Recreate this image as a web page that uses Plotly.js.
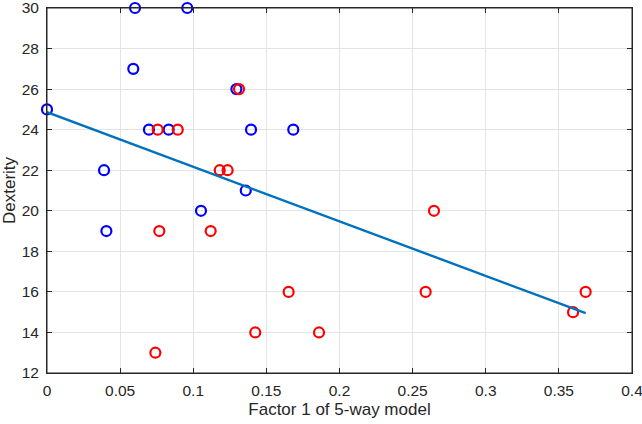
<!DOCTYPE html>
<html>
<head>
<meta charset="utf-8">
<script src="https://cdn.plot.ly/plotly-3.0.1.min.js"></script>
<style>html,body{margin:0;padding:0;background:#fff;}#chart{width:642px;height:424px;}</style>
</head>
<body>
<div id="chart"></div>
<script>
// Blue group
var blueX = [0.0602, 0.0959, 0.0590, 0.1295, 0.0000, 0.0697, 0.0832, 0.1395, 0.1684, 0.0390, 0.1359, 0.1053, 0.0406];
var blueY = [30, 30, 27, 26, 25, 24, 24, 24, 24, 22, 21, 20, 19];
// Red group
var redX = [0.1313, 0.0757, 0.0894, 0.1181, 0.1235, 0.0768, 0.1119, 0.1652, 0.1424, 0.1860, 0.0741, 0.2646, 0.2589, 0.3597, 0.3683];
var redY = [26, 24, 24, 22, 22, 19, 19, 16, 14, 14, 13, 20, 16, 15, 16];
// Fitted line endpoints
var fitX = [0.0, 0.3683];
var fitY = [24.86, 14.95];
// Tick labels
var xTickVals = [0, 0.05, 0.1, 0.15, 0.2, 0.25, 0.3, 0.35, 0.4];
var xTickText = ['0', '0.05', '0.1', '0.15', '0.2', '0.25', '0.3', '0.35', '0.4'];
var yTickVals = [12, 14, 16, 18, 20, 22, 24, 26, 28, 30];
var yTickText = ['12', '14', '16', '18', '20', '22', '24', '26', '28', '30'];

var traces = [
  {x: blueX, y: blueY, type: 'scatter', mode: 'markers', cliponaxis: false,
   marker: {symbol: 'circle-open', size: 10, color: '#0000FF', line: {width: 2.2, color: '#0000FF'}}},
  {x: redX, y: redY, type: 'scatter', mode: 'markers', cliponaxis: false,
   marker: {symbol: 'circle-open', size: 10, color: '#FF0000', line: {width: 2.2, color: '#FF0000'}}},
  {x: fitX, y: fitY, type: 'scatter', mode: 'lines', line: {color: '#0072BD', width: 2.4}}
];

var fontFam = 'Liberation Sans, Arial, sans-serif';
var axisCommon = {
  showline: true, linecolor: '#262626', linewidth: 1, mirror: 'all',
  ticks: 'inside', ticklen: 5, tickcolor: '#262626', tickwidth: 1,
  showgrid: true, gridcolor: '#e3e3e3', gridwidth: 1, zeroline: false,
  ticklabeloverflow: 'allow',
  tickfont: {family: fontFam, size: 15.5, color: '#262626'}
};

var layout = {
  width: 642, height: 424,
  margin: {l: 47, r: 10, t: 8, b: 51},
  paper_bgcolor: '#ffffff', plot_bgcolor: '#ffffff',
  showlegend: false,
  xaxis: Object.assign({}, axisCommon, {
    range: [0, 0.4], tickmode: 'array', tickvals: xTickVals, ticktext: xTickText,
    ticklabelstandoff: 3,
    title: {text: 'Factor 1 of 5-way model', standoff: 5, font: {family: fontFam, size: 17, color: '#262626'}}
  }),
  yaxis: Object.assign({}, axisCommon, {
    range: [12, 30], tickmode: 'array', tickvals: yTickVals, ticktext: yTickText,
    ticklabelstandoff: 4,
    title: {text: 'Dexterity', standoff: 2, font: {family: fontFam, size: 17, color: '#262626'}}
  }),
  shapes: [{type: 'rect', xref: 'paper', yref: 'paper', x0: 0, x1: 1, y0: 0, y1: 1,
            line: {color: '#262626', width: 1}, fillcolor: 'rgba(0,0,0,0)', layer: 'above'}]
};

Plotly.newPlot('chart', traces, layout, {displayModeBar: false, staticPlot: true});
</script>
</body>
</html>
